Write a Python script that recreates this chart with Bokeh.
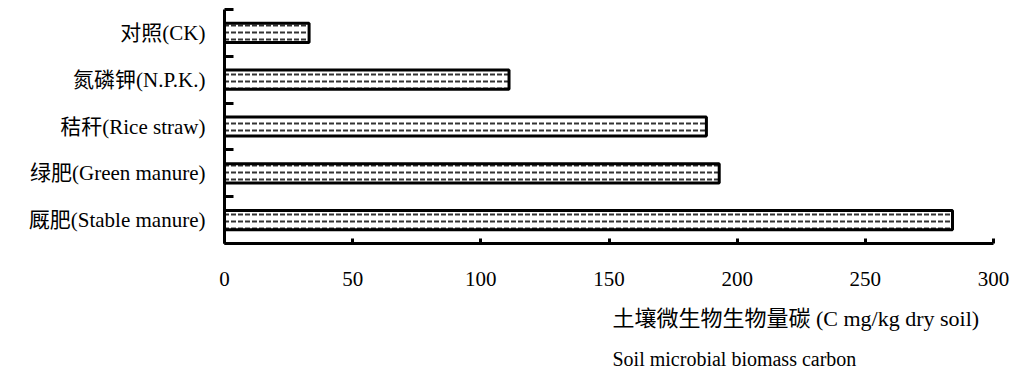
from bokeh.plotting import figure
from bokeh.models import Range1d, LinearAxis, FixedTicker, Title
from bokeh.embed import file_html
from bokeh.resources import INLINE

# Data (top to bottom as shown)
categories = ["对照(CK)", "氮磷钾(N.P.K.)", "秸秆(Rice straw)",
              "绿肥(Green manure)", "厩肥(Stable manure)"]
values = [33, 111, 188, 193, 284]
x_ticks = [0, 50, 100, 150, 200, 250, 300]
title_cn = "土壤微生物生物量碳 (C mg/kg dry soil)"
title_en = "Soil microbial biomass carbon"

n = len(categories)
# category slot centres, bottom to top, and slot boundaries
ypos = [n - i - 0.5 for i in range(n)]
bounds = list(range(n + 1))

SERIF = "Liberation Serif, 'Noto Sans CJK SC'"

p = figure(width=1017, height=369,
           y_range=Range1d(0, n), x_range=Range1d(0, 300),
           y_axis_location=None, x_axis_location=None,
           output_backend="svg", toolbar_location=None,
           min_border_left=224, min_border_right=24,
           min_border_top=9, min_border_bottom=124)
p.outline_line_color = None
p.xgrid.visible = False
p.ygrid.visible = False
p.background_fill_color = "white"
p.border_fill_color = "white"

p.hbar(y=ypos, right=values, left=0, height=0.41,
       fill_color="white", line_color="black", line_width=3,
       hatch_pattern="horizontal_dash", hatch_color="black",
       hatch_scale=7, hatch_weight=2, hatch_alpha=0.8)

# x axis
xa = LinearAxis(ticker=FixedTicker(ticks=x_ticks))
xa.axis_line_width = 3
xa.major_tick_in = 5
xa.major_tick_out = 0
xa.major_tick_line_width = 3
xa.minor_tick_line_color = None
xa.major_label_standoff = 28
xa.major_label_text_font = SERIF
xa.major_label_text_font_size = "21px"
xa.major_label_text_color = "black"
p.add_layout(xa, "below")

# y axis: labels at slot centres, ticks at slot boundaries
ya = LinearAxis(ticker=FixedTicker(ticks=ypos, minor_ticks=bounds),
                major_label_overrides={y: c for y, c in zip(ypos, categories)})
ya.axis_line_width = 3
ya.major_tick_line_color = None
ya.major_tick_in = 0
ya.major_tick_out = 0
ya.minor_tick_in = 9
ya.minor_tick_out = 0
ya.minor_tick_line_width = 3
ya.major_label_standoff = 19
ya.major_label_text_font = SERIF
ya.major_label_text_font_size = "21px"
ya.major_label_text_color = "black"
p.add_layout(ya, "left")

t1 = Title(text=title_cn, align="left", offset=388, standoff=30,
           text_font=SERIF, text_font_size="22px", text_font_style="normal",
           text_color="black")
t2 = Title(text=title_en, align="left", offset=388, standoff=0,
           text_font=SERIF, text_font_size="20px", text_font_style="normal",
           text_color="black")
p.add_layout(t1, "below")
p.add_layout(t2, "below")

open("out.html", "w").write(file_html(p, INLINE))
